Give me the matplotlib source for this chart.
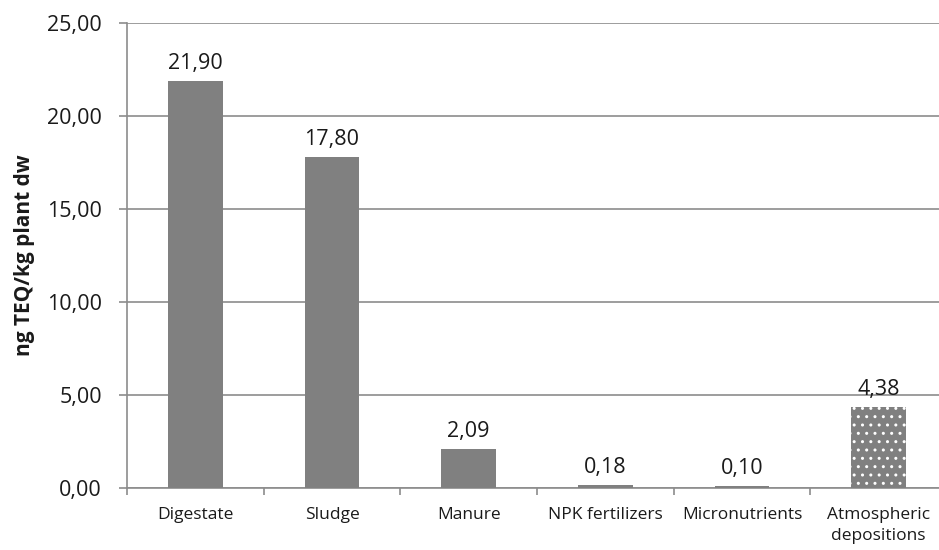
import matplotlib.pyplot as plt
from matplotlib.ticker import FuncFormatter

sources = ['Digestate', 'Sludge', 'Manure', 'NPK fertilizers', 'Micronutrients',
           'Atmospheric\ndepositions']
teq = [21.90, 17.80, 2.09, 0.18, 0.10, 4.38]

plt.rcParams['font.family'] = ['Open Sans', 'DejaVu Sans']
plt.rcParams['hatch.linewidth'] = 1.0

dpi = 100
fig = plt.figure(figsize=(939 / dpi, 550 / dpi), dpi=dpi)
ax = fig.add_axes([127 / 939, 1 - 488 / 550, 820 / 939, 465 / 550])

grey = '#808080'
line = '#8c8c8c'
txt = '#1a1a1a'
x = range(len(sources))
bars = ax.bar(x, teq, width=0.40, color=grey, zorder=3)
# dotted fill on the last bar
bars[-1].set_hatch('..')
bars[-1].set_edgecolor('white')
bars[-1].set_linewidth(0)

for xi, v in zip(x, teq):
    ax.annotate(f'{v:.2f}'.replace('.', ','), (xi, v), xytext=(0, 5),
                textcoords='offset points', ha='center', va='bottom',
                fontsize=15.5, color=txt)

ax.set_xlim(-0.5, len(sources) - 0.5)
ax.set_ylim(0, 25)
ax.set_yticks([0, 5, 10, 15, 20, 25])
ax.yaxis.set_major_formatter(FuncFormatter(lambda v, p: f'{v:.2f}'.replace('.', ',')))
ax.grid(axis='y', color=line, linewidth=1.2, zorder=0)

ax.set_xticks([i + 0.5 for i in range(-1, len(sources))])
ax.set_xticklabels([])
ax.set_xticks(list(x), minor=True)
ax.set_xticklabels(sources, minor=True, fontsize=12.5, color=txt, linespacing=1.35)
ax.tick_params(axis='x', which='major', length=5, color=line, width=1.2)
ax.tick_params(axis='x', which='minor', length=0, pad=14)
ax.tick_params(axis='y', length=6, color=line, width=1.2, pad=12,
               labelsize=15.5, labelcolor=txt)

for s in ['top', 'right']:
    ax.spines[s].set_visible(False)
for s in ['left', 'bottom']:
    ax.spines[s].set_color(line)
    ax.spines[s].set_linewidth(1.2)

ax.set_ylabel('ng TEQ/kg plant dw', fontsize=15, fontweight='bold', color=txt)
ax.yaxis.set_label_coords(-0.112, 0.5)

fig.savefig('out.png', dpi=dpi)
